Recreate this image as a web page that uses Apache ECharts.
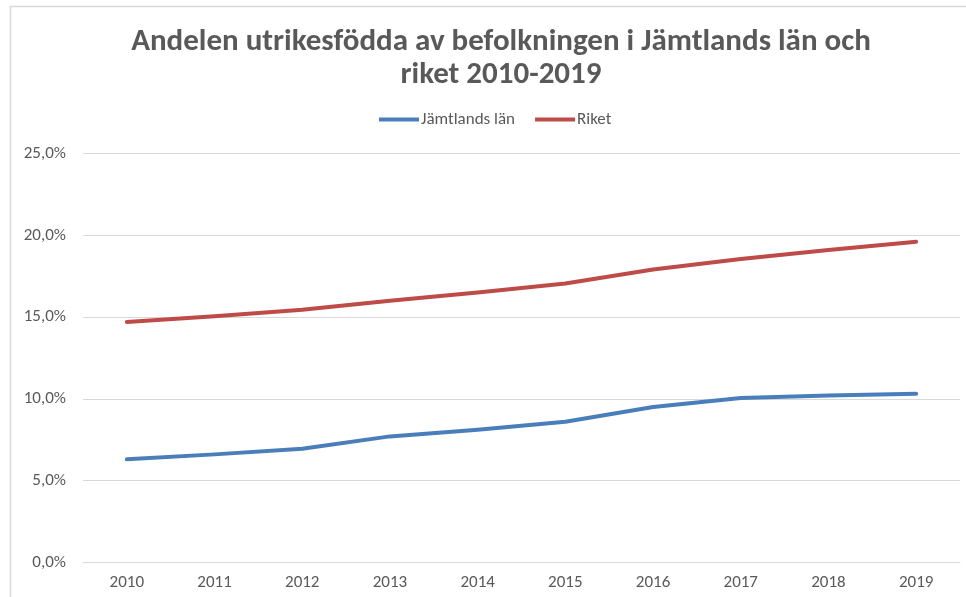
<!DOCTYPE html>
<html>
<head>
<meta charset="utf-8">
<title>Andelen utrikesfödda</title>
<script src="https://cdn.jsdelivr.net/npm/echarts@6/dist/echarts.min.js"></script>
<style>
  html, body { margin: 0; padding: 0; background: #fff; }
  #chart { width: 966px; height: 597px; }
</style>
</head>
<body>
<div id="chart"></div>
<script>
// data (percent)
const years = ['2010', '2011', '2012', '2013', '2014', '2015', '2016', '2017', '2018', '2019'];
const jamtland = [6.3, 6.6, 6.95, 7.7, 8.1, 8.6, 9.5, 10.05, 10.2, 10.3];
const riket = [14.7, 15.05, 15.45, 16.0, 16.5, 17.05, 17.9, 18.55, 19.1, 19.6];
const seriesNames = ['Jämtlands län', 'Riket'];

const font = 'Carlito, "Liberation Sans Narrow", "Open Sans", sans-serif';
const textColor = '#595959';

const chart = echarts.init(document.getElementById('chart'));

const option = {
  backgroundColor: '#fff',
  animation: false,
  title: {
    text: 'Andelen utrikesfödda av befolkningen i Jämtlands län och\nriket 2010-2019',
    left: 496,
    textAlign: 'center',
    top: 21,
    textStyle: {
      fontFamily: font,
      fontSize: 31,
      fontWeight: 'bold',
      color: textColor,
      lineHeight: 33
    }
  },
  legend: {
    top: 106,
    left: 374,
    itemWidth: 40,
    itemHeight: 4,
    itemGap: 20,
    icon: 'rect',
    textStyle: { fontFamily: font, fontSize: 17, color: textColor, padding: [0, 0, 0, -3] },
    data: seriesNames
  },
  grid: {
    left: 83,
    right: 6,
    top: 153.5,
    bottom: 34.7,
    containLabel: false
  },
  xAxis: {
    type: 'category',
    data: years,
    boundaryGap: true,
    axisLine: { show: true, lineStyle: { color: '#d9d9d9', width: 1 } },
    axisTick: { show: false },
    axisLabel: { fontFamily: font, fontSize: 17, color: textColor, margin: 12 }
  },
  yAxis: {
    type: 'value',
    min: 0,
    max: 25,
    interval: 5,
    axisLine: { show: false },
    axisTick: { show: false },
    splitLine: { lineStyle: { color: '#d9d9d9', width: 1 } },
    axisLabel: {
      fontFamily: font,
      fontSize: 17,
      color: textColor,
      margin: 17,
      formatter: v => v.toFixed(1).replace('.', ',') + '%'
    }
  },
  series: [
    {
      name: seriesNames[0],
      type: 'line',
      data: jamtland,
      symbol: 'none',
      color: '#4a7ebb',
      lineStyle: { width: 4, cap: 'round', join: 'round' }
    },
    {
      name: seriesNames[1],
      type: 'line',
      data: riket,
      symbol: 'none',
      color: '#be4b48',
      lineStyle: { width: 4, cap: 'round', join: 'round' }
    }
  ],
  // chart frame, like the excel chart border
  graphic: [
    {
      type: 'rect',
      silent: true,
      shape: { x: 10.5, y: 6.5, width: 1000, height: 700 },
      style: { fill: 'none', stroke: '#d9d9d9', lineWidth: 1.5 }
    }
  ]
};

chart.setOption(option);
</script>
</body>
</html>
